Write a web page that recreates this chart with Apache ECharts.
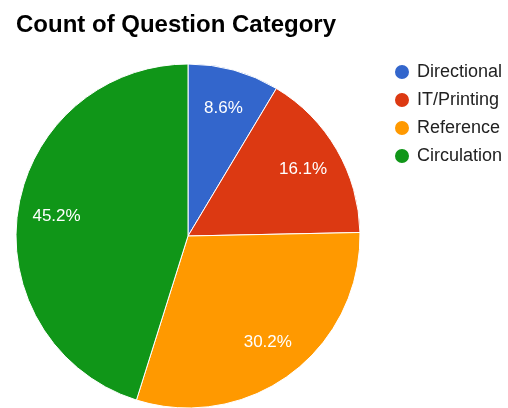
<!DOCTYPE html>
<html>
<head>
<meta charset="utf-8">
<script src="https://cdn.jsdelivr.net/npm/echarts@6/dist/echarts.min.js"></script>
<style>
  html, body { margin: 0; padding: 0; background: #fff; }
  #chart { width: 508px; height: 408px; }
</style>
</head>
<body>
<div id="chart"></div>
<script>
// data (percent shares)
const categories = ["Directional", "IT/Printing", "Reference", "Circulation"];
const shares = [8.6, 16.1, 30.2, 45.2];
const colors = ["#3366cc", "#dc3912", "#ff9900", "#109618"];

const font = 'Arial, "Liberation Sans", sans-serif';
const pieData = categories.map((name, i) => ({ name: name, value: shares[i] }));

const chart = echarts.init(document.getElementById("chart"), null, { renderer: "canvas" });

chart.setOption({
  animation: false,
  color: colors,
  title: {
    text: "Count of Question Category",
    left: 11,
    top: 8,
    textStyle: { fontFamily: font, fontSize: 24, fontWeight: "bold", color: "#000" }
  },
  legend: {
    data: categories,
    orient: "vertical",
    left: 388,
    top: 58,
    icon: "circle",
    itemWidth: 16,
    itemHeight: 16,
    itemGap: 10,
    textStyle: { fontFamily: font, fontSize: 18, color: "#222", padding: [0, 0, 0, 2] }
  },
  series: [
    {
      // the slices
      type: "pie",
      center: [188, 236],
      radius: [0, 172],
      startAngle: 90,
      clockwise: true,
      data: pieData,
      itemStyle: { borderColor: "#fff", borderWidth: 1 },
      label: { show: false },
      labelLine: { show: false },
      emphasis: { disabled: true }
    },
    {
      // label ring only, pushes the percentages out toward the rim
      type: "pie",
      center: [188, 236],
      radius: [88, 172],
      startAngle: 90,
      clockwise: true,
      silent: true,
      data: pieData,
      itemStyle: { color: "rgba(0,0,0,0)" },
      label: {
        show: true,
        position: "inside",
        formatter: p => p.value.toFixed(1) + "%",
        fontFamily: font,
        fontSize: 17,
        color: "#fff"
      },
      labelLine: { show: false },
      emphasis: { disabled: true }
    }
  ]
});
</script>
</body>
</html>
